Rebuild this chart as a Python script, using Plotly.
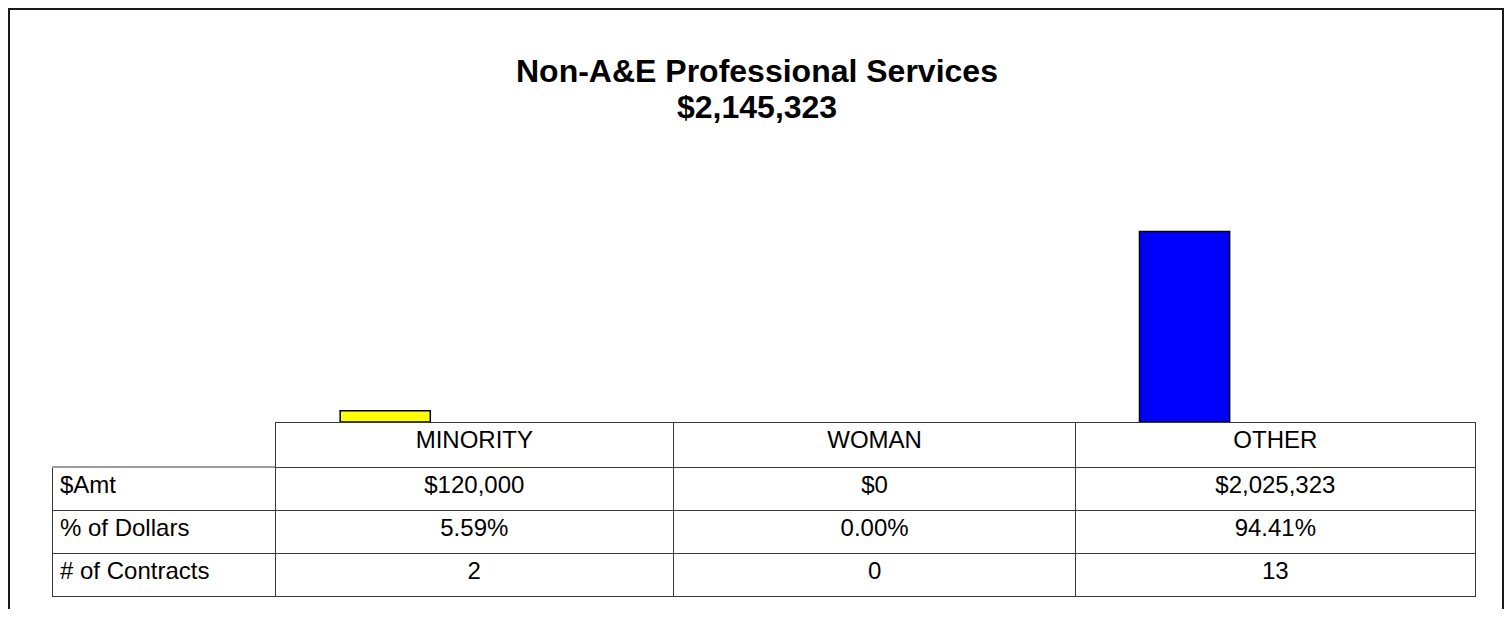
import plotly.graph_objects as go

# page body keeps its 8px margin, so the figure is 16px smaller than the window
OFF = 8
W, H = 1512 - 2 * OFF, 617 - 2 * OFF

# data
categories = ["MINORITY", "WOMAN", "OTHER"]
amounts = [120000, 0, 2025323]
pct_dollars = [5.59, 0.00, 94.41]
contracts = [2, 0, 13]
row_labels = ["$Amt", "% of Dollars", "# of Contracts"]
bar_colors = ["#FFFF00", "#FF00FF", "#0000FF"]
total_amount = 2145323

FONT = "Arial, Liberation Sans, sans-serif"
LINE = "#3a3a3a"


def fx(px):
    # screen pixel -> paper fraction
    return (px - OFF) / W


def fy(py):
    return 1 - (py - OFF) / H


fig = go.Figure()

fig.add_trace(
    go.Bar(
        x=categories,
        y=amounts,
        width=0.2256,
        offset=-0.337,
        marker=dict(
            color=bar_colors,
            line=dict(color="#000000", width=[1.5 if v > 0 else 0 for v in amounts]),
        ),
        showlegend=False,
        hoverinfo="x+y",
    )
)

amt_txt = [f"${v:,.0f}" for v in amounts]
pct_txt = [f"{p:.2f}%" for p in pct_dollars]
cnt_txt = [str(c) for c in contracts]
columns = [row_labels] + [[a, p, c] for a, p, c in zip(amt_txt, pct_txt, cnt_txt)]

fig.add_trace(
    go.Table(
        domain=dict(x=[fx(52), fx(1475)], y=[fy(601), fy(422)]),
        columnwidth=[223, 398, 402, 399],
        header=dict(
            values=[""] + categories,
            height=45,
            align="center",
            fill=dict(color="white"),
            line=dict(color=["white", LINE, LINE, LINE], width=1),
            font=dict(family=FONT, size=24, color="black"),
        ),
        cells=dict(
            values=columns,
            height=43,
            align=["left", "center", "center", "center"],
            fill=dict(color="white"),
            line=dict(color=LINE, width=1),
            font=dict(family=FONT, size=24, color="black"),
        ),
    )
)

fig.add_annotation(
    text="<b>Non-A&E Professional Services</b>", x=fx(757), y=fy(71),
    xref="paper", yref="paper", showarrow=False, xanchor="center", yanchor="middle",
    font=dict(family=FONT, size=32, color="black"),
)
fig.add_annotation(
    text=f"<b>${total_amount:,.0f}</b>", x=fx(757), y=fy(107),
    xref="paper", yref="paper", showarrow=False, xanchor="center", yanchor="middle",
    font=dict(family=FONT, size=32, color="black"),
)

# top edge of the "$Amt" label cell (the blank corner cell has no border)
fig.add_shape(
    type="line", xref="paper", yref="paper",
    x0=fx(52), x1=fx(275), y0=fy(467), y1=fy(467),
    line=dict(color=LINE, width=1),
)

# outer chart border (bottom edge runs off the page)
fig.add_shape(
    type="rect", xref="paper", yref="paper",
    x0=1 / W, x1=(W - 1) / W, y0=-0.05, y1=1 - 1 / H,
    line=dict(color="#1a1a1a", width=2),
)

fig.update_layout(
    width=W,
    height=H,
    margin=dict(l=0, r=0, t=0, b=0),
    paper_bgcolor="white",
    plot_bgcolor="white",
    xaxis=dict(
        domain=[fx(275), fx(1474)], type="category", range=[-0.5, 2.5],
        showticklabels=False, showgrid=False, zeroline=False, showline=False, ticks="",
    ),
    yaxis=dict(
        domain=[fy(422), fy(187)], range=[0, 2500000],
        showticklabels=False, showgrid=False, zeroline=False, showline=False, ticks="",
    ),
    font=dict(family=FONT),
)

fig.write_html("out.html")
